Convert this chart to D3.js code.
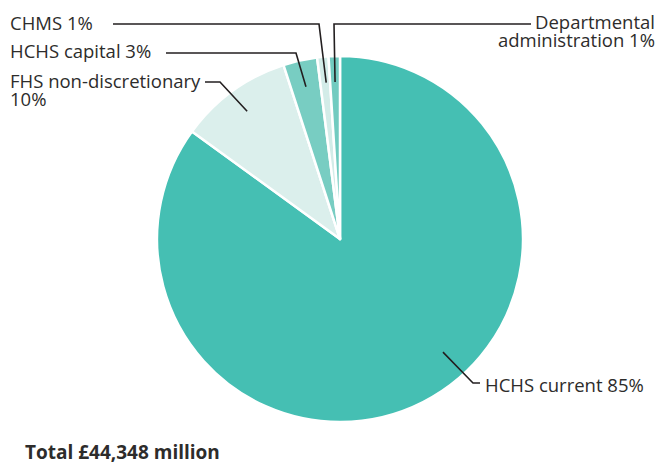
<!DOCTYPE html>
<html>
<head>
<meta charset="utf-8">
<script src="https://cdn.jsdelivr.net/npm/d3@7"></script>
<style>
  html, body { margin: 0; padding: 0; background: #ffffff; }
  svg { display: block; }
  text { font-family: "Open Sans", Lato, sans-serif; fill: #2d2c2b; }
</style>
</head>
<body>
<svg id="chart" width="660" height="464"></svg>
<script>
// Spending breakdown (percent of total), clockwise from 12 o'clock
const categories = ["HCHS current", "FHS non-discretionary", "HCHS capital", "CHMS", "Departmental administration"];
const shares = [85, 10, 3, 1, 1];
const sliceColors = ["#45bfb3", "#dbefec", "#78cdc2", "#d3ece8", "#72cbc0"];
const labelLines = [
  ["HCHS current 85%"],
  ["FHS non-discretionary", "10%"],
  ["HCHS capital 3%"],
  ["CHMS 1%"],
  ["Departmental", "administration 1%"]
];
const totalLabel = "Total £44,348 million";

const svg = d3.select("#chart");
const cx = 340, cy = 239, radius = 183;

const data = categories.map((c, i) => ({ name: c, value: shares[i], color: sliceColors[i], lines: labelLines[i] }));

const pie = d3.pie().value(d => d.value).sort(null);
const arcs = pie(data);
const arc = d3.arc().innerRadius(0).outerRadius(radius);

const g = svg.append("g").attr("transform", `translate(${cx},${cy})`);

g.selectAll("path.slice")
  .data(arcs)
  .enter().append("path")
  .attr("class", "slice")
  .attr("d", arc)
  .attr("fill", d => d.data.color)
  .attr("stroke", "#ffffff")
  .attr("stroke-width", 2.5)
  .attr("stroke-linejoin", "round");

// Leader-line layout: anchor radius, anchor angle fraction within slice,
// the elbow point and the label placement.
const layout = [
  { r: 153, frac: 0.45, elbow: [473, 383], end: [480, 383], tx: 485, ty: 392, anchor: "start" },
  { r: 158, frac: 0.5, elbow: [220, 82], end: [205, 82], tx: 10, ty: 88, anchor: "start" },
  { r: 156, frac: 0.5, elbow: [296, 53], end: [166, 53], tx: 10, ty: 58, anchor: "start" },
  { r: 157, frac: 0.6, elbow: [319, 24], end: [113, 24], tx: 10, ty: 30, anchor: "start" },
  { r: 157, frac: 0.5, elbow: [334, 24], end: [531, 24], tx: 655, ty: 29, anchor: "end" }
];

const leader = d3.line();
arcs.forEach((a, i) => {
  const L = layout[i];
  const ang = a.startAngle + (a.endAngle - a.startAngle) * L.frac;
  const ax = cx + L.r * Math.sin(ang);
  const ay = cy - L.r * Math.cos(ang);
  svg.append("path")
    .attr("d", leader([[ax, ay], L.elbow, L.end]))
    .attr("fill", "none")
    .attr("stroke", "#231f20")
    .attr("stroke-width", 1.6);

  const t = svg.append("text")
    .attr("x", L.tx)
    .attr("y", L.ty)
    .attr("text-anchor", L.anchor)
    .style("font-size", "18.5px");
  a.data.lines.forEach((ln, j) => {
    t.append("tspan")
      .attr("x", L.tx)
      .attr("dy", j === 0 ? 0 : 18)
      .text(ln);
  });
});

svg.append("text")
  .attr("x", 25)
  .attr("y", 458.5)
  .style("font-size", "19px")
  .style("font-weight", "bold")
  .text(totalLabel);
</script>
</body>
</html>
